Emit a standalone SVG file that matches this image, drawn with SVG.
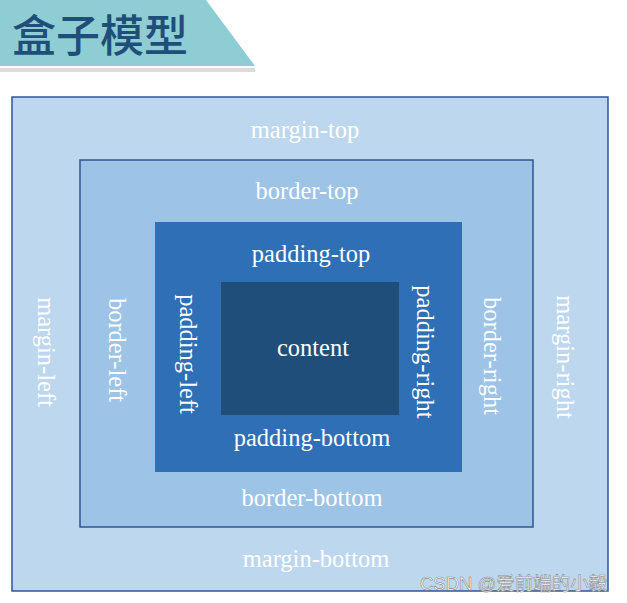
<svg xmlns="http://www.w3.org/2000/svg" width="627" height="603" viewBox="0 0 627 603">
<style>
.lbl{font-family:"Liberation Serif","Times New Roman",serif;font-size:24.5px;fill:#ffffff;text-anchor:middle}
.vl{dominant-baseline:central}
.box{stroke:#2f5597;stroke-width:1.5}
</style>
<rect width="627" height="603" fill="#ffffff"/>
<g id="title">
<polygon points="0,0 206,0 255,66 0,66" fill="#8fcdd4"/>
<rect x="0" y="68" width="255" height="4" fill="#dcdcdc"/>
<text x="12" y="52" font-family="'Noto Sans CJK SC',sans-serif" font-size="44" font-weight="500" fill="#1f4e79">盒子模型</text>
</g>
<g id="margin">
<rect class="box" x="12" y="97" width="596" height="494" fill="#bdd7ee"/>
<text class="lbl" x="305" y="138">margin-top</text>
<text class="lbl" x="316" y="567">margin-bottom</text>
<text class="lbl vl" transform="translate(46,352) rotate(90)">margin-left</text>
<text class="lbl vl" transform="translate(565,357) rotate(90)">margin-right</text>
</g>
<g id="border">
<rect class="box" x="80" y="160" width="453" height="367" fill="#9dc3e6"/>
<text class="lbl" x="307" y="199">border-top</text>
<text class="lbl" x="312" y="506">border-bottom</text>
<text class="lbl vl" transform="translate(117,350) rotate(90)">border-left</text>
<text class="lbl vl" transform="translate(492,356) rotate(90)">border-right</text>
</g>
<g id="padding">
<rect x="155" y="222" width="307" height="250" fill="#2e6fb5"/>
<text class="lbl" x="311" y="262">padding-top</text>
<text class="lbl" x="312" y="446">padding-bottom</text>
<text class="lbl vl" transform="translate(188,354) rotate(90)">padding-left</text>
<text class="lbl vl" transform="translate(425,352) rotate(90)">padding-right</text>
</g>
<g id="content">
<rect x="221" y="282" width="178" height="133" fill="#1f4e7b"/>
<text class="lbl" x="313" y="356">content</text>
</g>
<g id="watermark">
<text x="420" y="590" font-family="'Liberation Sans','Noto Sans CJK SC',sans-serif" font-size="18.5" fill="#ffffff" stroke="#8a8a8a" stroke-width="0.6">CSDN @爱前端的小毅</text>
</g>
</svg>
